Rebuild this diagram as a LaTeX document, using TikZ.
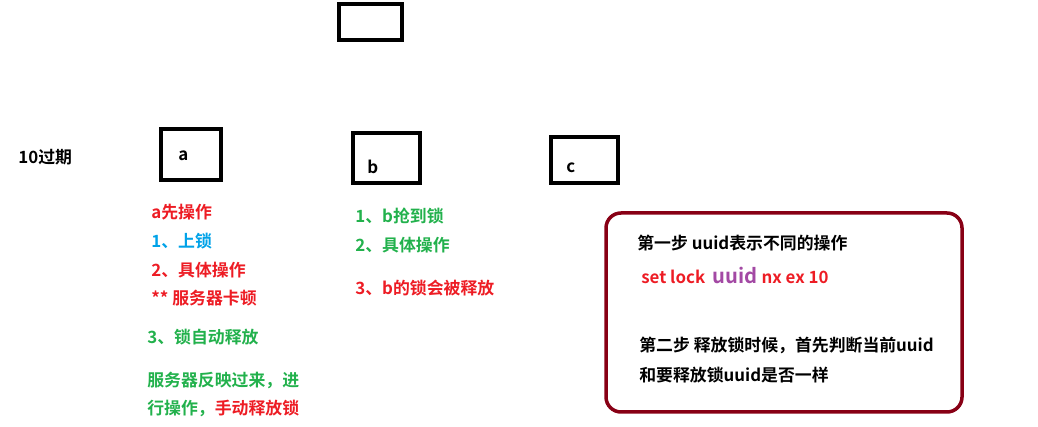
\documentclass[tikz,border=0pt]{standalone}
\usepackage{fontspec}
\setmainfont{Noto Sans CJK SC}[BoldFont={* Bold}]
\definecolor{myred}{HTML}{ED1C24}
\definecolor{mygreen}{HTML}{22B14C}
\definecolor{myblue}{HTML}{00A2E8}
\definecolor{mypurple}{HTML}{A349A4}
\definecolor{boxred}{HTML}{880015}
\tikzset{
  srv/.style={draw=black, line width=0.75mm},
  txt/.style={anchor=west, inner sep=0pt, font=\fontsize{9.6}{11}\selectfont\bfseries},
}
\begin{document}
\begin{tikzpicture}[x=0.2mm, y=-0.2mm]
\useasboundingbox (0,0) rectangle (1038,427);
% servers
\draw[srv] (339,4) rectangle (402,40);
\draw[srv] (161,129) rectangle (221,180);
\draw[srv] (353,133) rectangle (420,183);
\draw[srv] (551,137) rectangle (618,183);
\node[txt] (la) at (178,156) {a};
\node[txt] (lb) at (367,167) {b};
\node[txt] (lc) at (566,168) {c};
\node[txt] (exp) at (18,157) {10过期};
% client a
\node[txt, myred] (a0) at (151,212) {a先操作};
\node[txt, myblue] (a1) at (151,241) {1、上锁};
\node[txt, myred] (a2) at (151,270) {2、具体操作};
\node[txt, myred] (a3) at (151,298) {** 服务器卡顿};
\node[txt, mygreen] (a4) at (147,337) {3、锁自动释放};
\node[txt, mygreen] (a5) at (147,380) {服务器反映过来，进};
\node[txt, mygreen] (a6) at (147,408) {行操作，\textcolor{myred}{手动释放锁}};
% client b
\node[txt, mygreen] (b1) at (355,216) {1、b抢到锁};
\node[txt, mygreen] (b2) at (355,245) {2、具体操作};
\node[txt, myred] (b3) at (355,288) {3、b的锁会被释放};
% note
\draw[boxred, line width=0.7mm, rounded corners=3mm] (606,213) rectangle (962,412);
\node[txt] (n1) at (637,243) {第一步 uuid表示不同的操作};
\node[txt, myred] (n2) at (641,275) {set lock\ \ {\fontsize{11.5}{12}\selectfont\textcolor{mypurple}{uuid}} nx ex 10};
\node[txt] (n3) at (639,345) {第二步 释放锁时候，首先判断当前uuid};
\node[txt] (n4) at (639,375) {和要释放锁uuid是否一样};
\end{tikzpicture}
\end{document}
